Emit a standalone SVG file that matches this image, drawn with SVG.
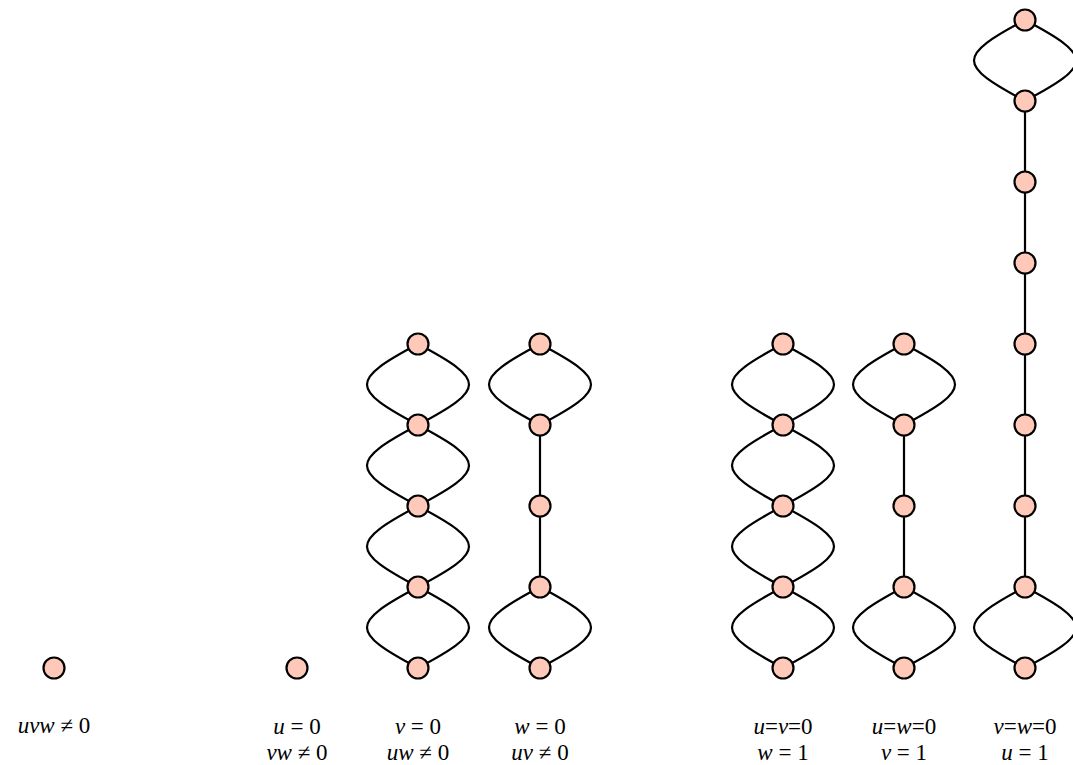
<svg xmlns="http://www.w3.org/2000/svg" width="1073" height="765" viewBox="0 0 1073 765">
  <style>
    .edge { fill: none; stroke: #000; stroke-width: 2.2; }
    .node { fill: #ffc9b9; stroke: #000; stroke-width: 2.2; }
    .v { font-style: italic; }
  </style>
  <defs>
    <!-- a double edge between two nodes 81px apart, drawn from the upper node -->
    <path id="loop" class="edge" d="M0 0 C-68 36 -68 45 0 81 M0 0 C68 36 68 45 0 81"/>
    <path id="bar" class="edge" d="M0 0 L0 81"/>
    <circle id="dot" class="node" r="10.5"/>
  </defs>

  <g id="connectors">
    <!-- column v = 0 -->
    <use href="#loop" x="418" y="344"/>
    <use href="#loop" x="418" y="425"/>
    <use href="#loop" x="418" y="506"/>
    <use href="#loop" x="418" y="587"/>
    <!-- column w = 0 -->
    <use href="#loop" x="540" y="344"/>
    <use href="#bar" x="540" y="425"/>
    <use href="#bar" x="540" y="506"/>
    <use href="#loop" x="540" y="587"/>
    <!-- column u = v = 0 -->
    <use href="#loop" x="783" y="344"/>
    <use href="#loop" x="783" y="425"/>
    <use href="#loop" x="783" y="506"/>
    <use href="#loop" x="783" y="587"/>
    <!-- column u = w = 0 -->
    <use href="#loop" x="904" y="344"/>
    <use href="#bar" x="904" y="425"/>
    <use href="#bar" x="904" y="506"/>
    <use href="#loop" x="904" y="587"/>
    <!-- column v = w = 0 -->
    <use href="#loop" x="1025" y="20"/>
    <use href="#bar" x="1025" y="101"/>
    <use href="#bar" x="1025" y="182"/>
    <use href="#bar" x="1025" y="263"/>
    <use href="#bar" x="1025" y="344"/>
    <use href="#bar" x="1025" y="425"/>
    <use href="#bar" x="1025" y="506"/>
    <use href="#loop" x="1025" y="587"/>
  </g>

  <g font-family="Liberation Serif, serif" font-size="23" text-anchor="middle" fill="#000">
    <g id="n-uvw">
      <use href="#dot" x="54" y="668"/>
      <text x="54" y="733"><tspan class="v">uvw</tspan> ≠ 0</text>
    </g>

    <g id="n-u0">
      <use href="#dot" x="297" y="668"/>
      <text x="297" y="734"><tspan class="v">u</tspan> = 0</text>
      <text x="297" y="760"><tspan class="v">vw</tspan> ≠ 0</text>
    </g>

    <g id="n-v0">
      <use href="#dot" x="418" y="344"/>
      <use href="#dot" x="418" y="425"/>
      <use href="#dot" x="418" y="506"/>
      <use href="#dot" x="418" y="587"/>
      <use href="#dot" x="418" y="668"/>
      <text x="418" y="734"><tspan class="v">v</tspan> = 0</text>
      <text x="418" y="760"><tspan class="v">uw</tspan> ≠ 0</text>
    </g>

    <g id="n-w0">
      <use href="#dot" x="540" y="344"/>
      <use href="#dot" x="540" y="425"/>
      <use href="#dot" x="540" y="506"/>
      <use href="#dot" x="540" y="587"/>
      <use href="#dot" x="540" y="668"/>
      <text x="540" y="734"><tspan class="v">w</tspan> = 0</text>
      <text x="540" y="760"><tspan class="v">uv</tspan> ≠ 0</text>
    </g>

    <g id="n-uv0">
      <use href="#dot" x="783" y="344"/>
      <use href="#dot" x="783" y="425"/>
      <use href="#dot" x="783" y="506"/>
      <use href="#dot" x="783" y="587"/>
      <use href="#dot" x="783" y="668"/>
      <text x="783" y="734"><tspan class="v">u</tspan>=<tspan class="v">v</tspan>=0</text>
      <text x="783" y="760"><tspan class="v">w</tspan> = 1</text>
    </g>

    <g id="n-uw0">
      <use href="#dot" x="904" y="344"/>
      <use href="#dot" x="904" y="425"/>
      <use href="#dot" x="904" y="506"/>
      <use href="#dot" x="904" y="587"/>
      <use href="#dot" x="904" y="668"/>
      <text x="904" y="734"><tspan class="v">u</tspan>=<tspan class="v">w</tspan>=0</text>
      <text x="904" y="760"><tspan class="v">v</tspan> = 1</text>
    </g>

    <g id="n-vw0">
      <use href="#dot" x="1025" y="20"/>
      <use href="#dot" x="1025" y="101"/>
      <use href="#dot" x="1025" y="182"/>
      <use href="#dot" x="1025" y="263"/>
      <use href="#dot" x="1025" y="344"/>
      <use href="#dot" x="1025" y="425"/>
      <use href="#dot" x="1025" y="506"/>
      <use href="#dot" x="1025" y="587"/>
      <use href="#dot" x="1025" y="668"/>
      <text x="1025" y="734"><tspan class="v">v</tspan>=<tspan class="v">w</tspan>=0</text>
      <text x="1025" y="760"><tspan class="v">u</tspan> = 1</text>
    </g>
  </g>
</svg>
